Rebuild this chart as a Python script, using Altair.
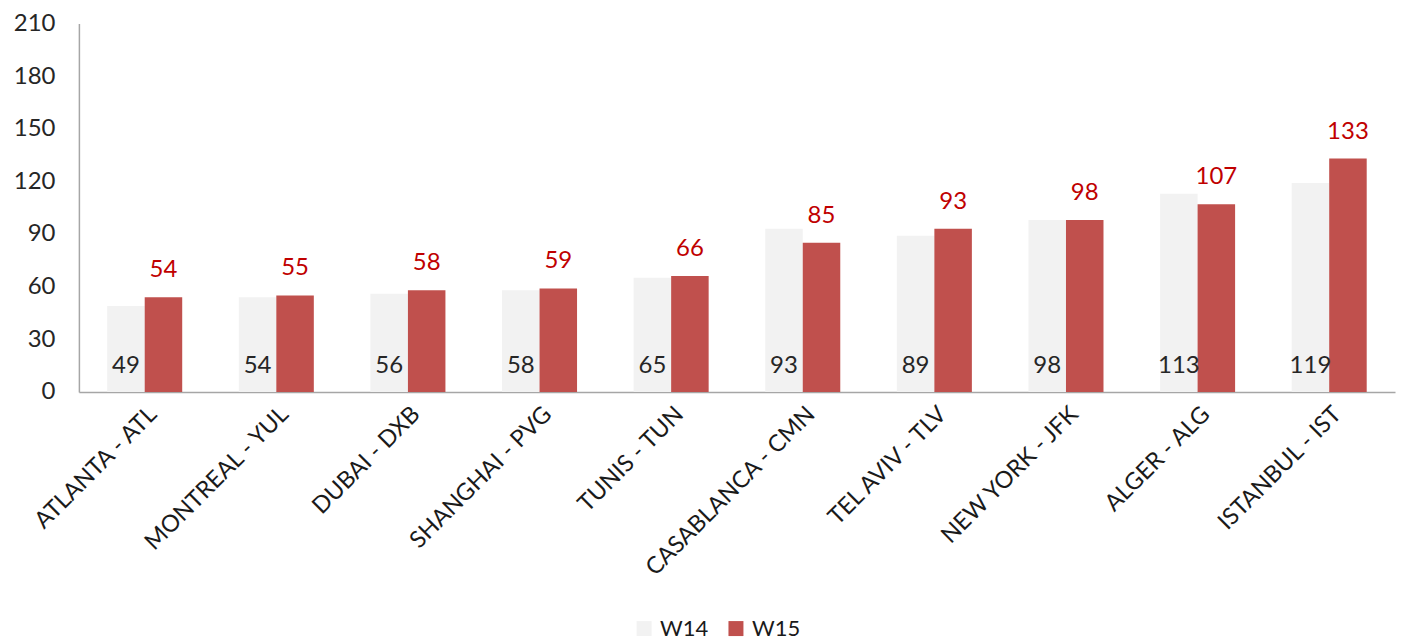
import altair as alt
import pandas as pd

routes = ["ATLANTA - ATL", "MONTREAL - YUL", "DUBAI - DXB", "SHANGHAI - PVG", "TUNIS - TUN",
          "CASABLANCA - CMN", "TEL AVIV - TLV", "NEW YORK - JFK", "ALGER - ALG", "ISTANBUL - IST"]
w14 = [49, 54, 56, 58, 65, 93, 89, 98, 113, 119]
w15 = [54, 55, 58, 59, 66, 85, 93, 98, 107, 133]
series = ["W14", "W15"]
y_ticks = [0, 30, 60, 90, 120, 150, 180, 210]

rows = []
for r, a, b in zip(routes, w14, w15):
    rows.append({"route": r, "week": "W14", "value": a, "base": 0})
    rows.append({"route": r, "week": "W15", "value": b, "base": 0})
df = pd.DataFrame(rows)

FONT = "Lato"

x = alt.X("route:N", sort=routes, title=None,
          scale=alt.Scale(paddingInner=0.43, paddingOuter=0.215),
          axis=alt.Axis(labelAngle=-45, labelFontSize=23.5, labelFont=FONT, labelColor="#1a1a1a",
                        ticks=False, domainColor="#A6A6A6", domainWidth=1.5, labelPadding=10,
                        labelAlign="right", labelBaseline="top", labelLimit=400))
xo = alt.XOffset("week:N", sort=series)
y_scale = alt.Scale(domain=[0, 210], nice=False)

base = alt.Chart(df)

bars = base.mark_bar().encode(
    x=x, xOffset=xo,
    y=alt.Y("value:Q", scale=y_scale, title=None,
            axis=alt.Axis(values=y_ticks, grid=False, ticks=False, labelFontSize=24, labelFont=FONT,
                          labelColor="#262626", domainColor="#A6A6A6", domainWidth=1.5,
                          labelPadding=24, minExtent=64, maxExtent=64)),
    color=alt.Color("week:N", sort=series,
                    scale=alt.Scale(domain=series, range=["#F2F2F2", "#C0504D"]),
                    legend=alt.Legend(title=None, orient="none", direction="horizontal",
                                      legendX=555, legendY=595, symbolType="square",
                                      symbolSize=225, symbolStrokeWidth=0, labelFontSize=22,
                                      labelFont=FONT, labelColor="#1a1a1a", columnPadding=16,
                                      labelOffset=5))
)

lbl15 = base.transform_filter(alt.datum.week == "W15").mark_text(
    baseline="bottom", dy=-15, fontSize=24, font=FONT, color="#C00000"
).encode(x=x, xOffset=xo, y=alt.Y("value:Q", scale=y_scale), text="value:Q")

lbl14 = base.transform_filter(alt.datum.week == "W14").mark_text(
    baseline="middle", dy=-26, fontSize=24, font=FONT, color="#262626"
).encode(x=x, xOffset=xo, y=alt.Y("base:Q", scale=y_scale), text="value:Q")

chart = alt.layer(bars, lbl15, lbl14).properties(
    width=1318, height=369,
    padding={"left": 5, "top": 3, "right": 5, "bottom": 5}
).configure_view(stroke=None)

chart.save("out.html", embed_options={"renderer": "svg", "actions": False})
